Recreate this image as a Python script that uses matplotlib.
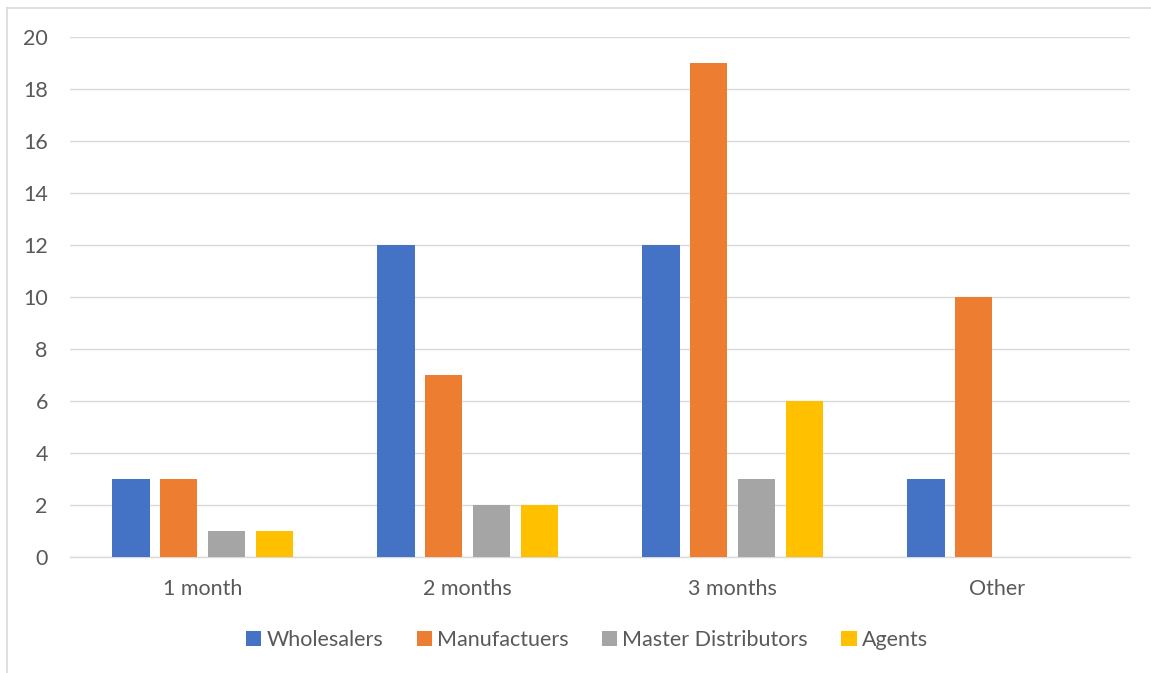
import numpy as np
import matplotlib.pyplot as plt
from matplotlib.lines import Line2D

categories = ['1 month', '2 months', '3 months', 'Other']
series = ['Wholesalers', 'Manufactuers', 'Master Distributors', 'Agents']
wholesalers = [3, 12, 12, 3]
manufacturers = [3, 7, 19, 10]
master_distributors = [1, 2, 3, 0]
agents = [1, 2, 6, 0]
colors = ['#4472C4', '#ED7D31', '#A5A5A5', '#FFC000']

plt.rcParams['font.family'] = ['Lato', 'DejaVu Sans']

fig = plt.figure(figsize=(11.51, 6.73), dpi=100)
ax = fig.add_axes([70 / 1151, 1 - 557 / 673, 1060 / 1151, 520 / 673])

x = np.arange(len(categories))
bar_width = 0.143
step = 0.181
values = [wholesalers, manufacturers, master_distributors, agents]
for i, (name, vals, c) in enumerate(zip(series, values, colors)):
    ax.bar(x + (i - 1.5) * step, vals, bar_width, color=c, label=name, zorder=3)

ax.set_xlim(-0.5, len(categories) - 0.5)
ax.set_ylim(0, 20)
ax.set_yticks(range(0, 21, 2))
ax.set_xticks(x)
ax.set_xticklabels(categories)
ax.grid(axis='y', color='#D9D9D9', linewidth=1, zorder=0)
for s in ['top', 'right', 'left']:
    ax.spines[s].set_visible(False)
ax.spines['bottom'].set_color('#D9D9D9')
ax.spines['bottom'].set_linewidth(1)
ax.tick_params(axis='both', length=0, labelsize=15.5, colors='#595959')
ax.tick_params(axis='y', pad=16)
ax.tick_params(axis='x', pad=16)

ax.legend(loc='center', bbox_to_anchor=(587 / 1151, 1 - 640 / 673),
          bbox_transform=fig.transFigure, ncol=4, frameon=False,
          fontsize=15.5, labelcolor='#595959', handlelength=0.7, handleheight=0.7,
          handletextpad=0.25, columnspacing=1.55)

# chart frame (cropped on right and bottom)
fig.add_artist(Line2D([7 / 1151, 7 / 1151], [0, 1 - 8 / 673], transform=fig.transFigure,
                      color='#D9D9D9', linewidth=1.2))
fig.add_artist(Line2D([7 / 1151, 1], [1 - 8 / 673, 1 - 8 / 673], transform=fig.transFigure,
                      color='#D9D9D9', linewidth=1.2))

fig.savefig('out.png', dpi=100)
